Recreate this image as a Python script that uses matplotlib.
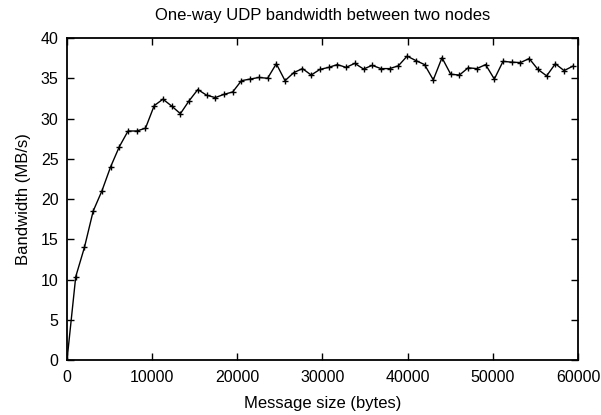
import numpy as np
import matplotlib.pyplot as plt

# ================================
# Dados
# ================================

STEP = 1024
bandwidth = [
    0.0, 10.35, 14.0, 18.5, 21.0, 24.0, 26.5, 28.45, 28.45, 28.8,
    31.6, 32.4, 31.55, 30.6, 32.2, 33.6, 32.9, 32.6, 33.0, 33.3,
    34.7, 34.9, 35.1, 35.0, 36.8, 34.7, 35.7, 36.2, 35.4, 36.1,
    36.35, 36.7, 36.35, 36.85, 36.15, 36.6, 36.2, 36.2, 36.55, 37.75,
    37.2, 36.7, 34.8, 37.55, 35.5, 35.4, 36.3, 36.2, 36.7, 34.9,
    37.1, 37.0, 36.95, 37.45, 36.1, 35.3, 36.8, 35.95, 36.5,
]
msg_size = [i * STEP for i in range(len(bandwidth))]

x_ticks = [0, 10000, 20000, 30000, 40000, 50000, 60000]
y_ticks = [0, 5, 10, 15, 20, 25, 30, 35, 40]

plt.rcParams['font.family'] = ['Liberation Sans', 'DejaVu Sans']

# ================================
# Figura
# ================================

fig = plt.figure(figsize=(6.01, 4.15), dpi=100)
ax = fig.add_axes([0.1115, 0.1325, 0.8502, 0.7759])

ax.plot(msg_size, bandwidth, color='black', linewidth=1.0,
        marker='+', markersize=4.5, markeredgewidth=1.0)

ax.set_xlim(0, 60000)
ax.set_ylim(0, 40)
ax.set_xticks(x_ticks)
ax.set_yticks(y_ticks)
ax.tick_params(direction='in', top=True, right=True, length=5, width=1,
               labelsize=11.5)
ax.tick_params(axis='x', pad=7)
ax.tick_params(axis='y', pad=6)

for spine in ax.spines.values():
    spine.set_linewidth(1.3)

ax.set_xlabel('Message size (bytes)', fontsize=12, labelpad=8)
ax.set_ylabel('Bandwidth (MB/s)', fontsize=12, labelpad=7)
ax.set_title('One-way UDP bandwidth between two nodes', fontsize=12, pad=13)

fig.savefig('out.png', dpi=100)
